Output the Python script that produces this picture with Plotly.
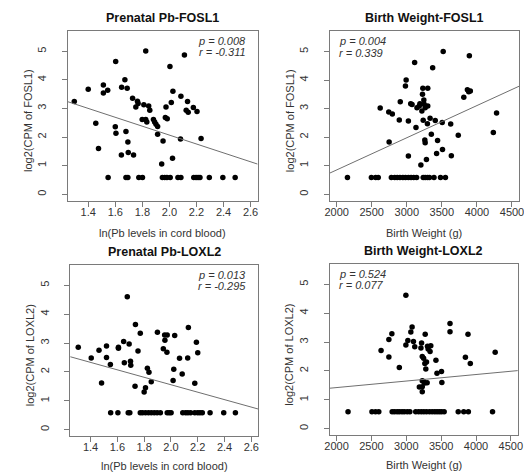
import plotly.graph_objects as go

W, H = 532, 472

# ---------------- data ----------------
# Panel 1: Prenatal Pb vs FOSL1
pb_fosl1_x = [1.297, 1.400, 1.456, 1.476, 1.512, 1.512, 1.544, 1.603, 1.600, 1.605,
              1.645, 1.647, 1.671, 1.688, 1.679, 1.693, 1.696, 1.735, 1.728, 1.752,
              1.764, 1.769, 1.825, 1.811, 1.799, 1.825, 1.833, 1.847, 1.855, 1.882,
              1.891, 1.901, 1.913, 1.913, 1.943, 1.953, 1.970, 1.984, 1.975, 2.004,
              2.014, 2.026, 2.023, 2.085, 2.082, 2.111, 2.124, 2.139, 2.134, 2.177,
              2.204, 2.234,
              1.547, 1.679, 1.693, 1.774, 1.801, 1.948, 1.965, 1.982, 2.006, 2.063,
              2.085, 2.180, 2.197, 2.212, 2.226, 2.295, 2.395, 2.486]
pb_fosl1_y = [3.24, 3.67, 2.48, 1.60, 3.82, 3.54, 3.64, 4.64, 2.36, 2.13,
              1.37, 3.74, 4.00, 3.71, 2.19, 1.83, 1.46, 1.37, 3.36, 3.05,
              3.25, 3.17, 5.01, 3.13, 2.61, 2.61, 2.53, 3.09, 2.94, 2.61,
              2.53, 2.45, 2.37, 2.10, 1.06, 1.86, 2.68, 2.64, 3.05, 4.47,
              3.21, 3.60, 1.26, 3.43, 1.93, 4.87, 2.94, 2.87, 3.24, 3.03,
              2.89, 1.95,
              0.585, 0.585, 0.585, 0.585, 0.585, 0.585, 0.585, 0.585, 0.585, 0.585,
              0.585, 0.585, 0.585, 0.585, 0.585, 0.585, 0.585, 0.585]

# Panel 2: Birth weight vs FOSL1
bw_fosl1_x = [2748, 2621, 2743, 2794, 2893, 2907, 2991, 2981, 3023, 3023,
              3056, 3075, 3112, 3131, 3145, 3178, 3187, 3201, 3215, 3229,
              3224, 3243, 3248, 3262, 3299, 3299, 3234, 3257, 3262, 3280,
              3294, 3332, 3369, 3350, 3406, 3439, 3425, 3505, 3509, 3519,
              3626, 3635, 3734, 3813, 3864, 3883, 3906, 3892, 4234, 4280,
              2154, 2495, 2556, 2593, 2780, 2827, 2864, 2902, 2944, 2981,
              3023, 3061, 3098, 3140, 3234, 3262, 3294, 3323, 3388, 3481, 3551]
bw_fosl1_y = [1.83, 3.02, 2.88, 2.81, 2.60, 3.24, 4.00, 3.79, 1.34, 2.57,
              3.17, 3.14, 4.62, 2.34, 3.03, 3.09, 3.17, 1.02, 2.92, 3.71,
              3.50, 3.30, 3.15, 3.03, 3.71, 3.09, 2.59, 1.90, 1.80, 1.22,
              2.47, 2.66, 4.43, 2.10, 2.58, 1.88, 1.43, 2.51, 1.57, 5.00,
              2.46, 1.35, 2.07, 3.40, 3.66, 3.59, 3.62, 4.85, 2.16, 2.85,
              0.585, 0.585, 0.585, 0.585, 0.585, 0.585, 0.585, 0.585, 0.585, 0.585,
              0.585, 0.585, 0.585, 0.585, 0.585, 0.585, 0.585, 0.585, 0.585, 0.585, 0.585]

# Panel 3: Prenatal Pb vs LOXL2
pb_loxl2_x = [1.308, 1.405, 1.463, 1.482, 1.519, 1.519, 1.548, 1.608, 1.608, 1.647,
              1.652, 1.674, 1.688, 1.698, 1.700, 1.735, 1.732, 1.754, 1.771, 1.824,
              1.836, 1.810, 1.800, 1.853, 1.899, 1.943, 1.955, 1.953, 1.972, 1.970,
              2.028, 2.021, 2.016, 2.064, 2.084, 2.125, 2.130, 2.178, 2.190, 2.200,
              1.550, 1.604, 1.681, 1.693, 1.771, 1.788, 1.810, 1.832, 1.853, 1.875,
              1.897, 1.921, 1.972, 1.987, 2.001, 2.088, 2.110, 2.127, 2.147, 2.178,
              2.200, 2.217, 2.234, 2.292, 2.394, 2.481]
pb_loxl2_y = [2.85, 2.48, 2.75, 1.62, 2.90, 2.50, 2.26, 2.85, 2.82, 3.05,
              2.32, 4.60, 2.97, 2.37, 2.23, 3.64, 1.50, 2.72, 3.34, 2.13,
              1.99, 1.45, 1.30, 1.66, 3.37, 2.80, 3.10, 3.28, 3.28, 2.68,
              3.26, 2.09, 1.70, 2.47, 1.93, 2.48, 3.54, 1.61, 3.03, 2.66,
              0.585, 0.585, 0.585, 0.585, 0.585, 0.585, 0.585, 0.585, 0.585, 0.585,
              0.585, 0.585, 0.585, 0.585, 0.585, 0.585, 0.585, 0.585, 0.585, 0.585,
              0.585, 0.585, 0.585, 0.585, 0.585, 0.585]

# Panel 4: Birth weight vs LOXL2
bw_loxl2_x = [2994, 2638, 2750, 2793, 2750, 2900, 2994, 3022, 3065, 3083,
              3102, 3121, 3219, 3210, 3229, 3248, 3271, 3266, 3290, 3280,
              3304, 3313, 3341, 3351, 3229, 3248, 3266, 3299, 3229, 3187,
              3229, 3425, 3440, 3505, 3510, 3627, 3627, 3848, 3885, 3918, 4275,
              2164, 2507, 2558, 2605, 2797, 2830, 2868, 2900, 2938, 2971,
              3013, 3051, 3135, 3177, 3215, 3252, 3290, 3332, 3370, 3407,
              3440, 3473, 3505, 3543, 3745, 3824, 3890, 4237]
bw_loxl2_y = [4.62, 2.71, 3.09, 3.29, 2.48, 2.12, 2.90, 3.05, 3.35, 3.52,
              3.02, 2.84, 2.97, 2.79, 2.50, 2.44, 3.27, 2.26, 2.31, 2.07,
              2.85, 2.76, 2.67, 2.87, 1.66, 1.63, 1.58, 1.59, 1.45, 1.44,
              1.28, 2.37, 1.92, 1.98, 1.60, 3.64, 3.36, 2.47, 3.27, 2.26, 2.65,
              0.585, 0.585, 0.585, 0.585, 0.585, 0.585, 0.585, 0.585, 0.585, 0.585,
              0.585, 0.585, 0.585, 0.585, 0.585, 0.585, 0.585, 0.585, 0.585, 0.585,
              0.585, 0.585, 0.585, 0.585, 0.585, 0.585, 0.585, 0.585]

# fitted regression lines (intercept, slope)
fit_pb_fosl1 = (5.18, -1.556)
fit_bw_fosl1 = (-1.405, 0.001128)
fit_pb_loxl2 = (4.137, -1.291)
fit_bw_loxl2 = (0.971, 0.000226)

titles = ["Prenatal Pb-FOSL1", "Birth Weight-FOSL1", "Prenatal Pb-LOXL2", "Birth Weight-LOXL2"]
stats = [("p = 0.008", "r = -0.311"), ("p = 0.004", "r = 0.339"),
         ("p = 0.013", "r = -0.295"), ("p = 0.524", "r = 0.077")]
xlabels = ["ln(Pb levels in cord blood)", "Birth Weight (g)",
           "ln(Pb levels in cord blood)", "Birth Weight (g)"]
ylabels = ["log2(CPM of FOSL1)", "log2(CPM of FOSL1)",
           "log2(CPM of LOXL2)", "log2(CPM of LOXL2)"]
pb_ticks = [1.4, 1.6, 1.8, 2.0, 2.2, 2.4, 2.6]
pb_ticktext = ["1.4", "1.6", "1.8", "2.0", "2.2", "2.4", "2.6"]
bw_ticks = [2000, 2500, 3000, 3500, 4000, 4500]
y_ticks = [0, 1, 2, 3, 4, 5]

# ---------------- layout geometry (pixels) ----------------
boxes = [  # left, right, top, bottom
    (55.7, 249.3, 22.7, 192.5),
    (322.7, 515.7, 23.0, 192.5),
    (58.3, 250.0, 256.5, 428.0),
    (322.7, 514.5, 255.5, 427.0),
]
xtitle_off = [32.5, 32.5, 29.5, 29.5]
xranges = [(1.248, 2.652), (1900, 4600), (1.248, 2.652), (1900, 4600)]
yrange = (-0.22, 5.72)

panels = [
    (pb_fosl1_x, pb_fosl1_y, fit_pb_fosl1, pb_ticks, pb_ticktext, "right"),
    (bw_fosl1_x, bw_fosl1_y, fit_bw_fosl1, bw_ticks, [str(v) for v in bw_ticks], "left"),
    (pb_loxl2_x, pb_loxl2_y, fit_pb_loxl2, pb_ticks, pb_ticktext, "right"),
    (bw_loxl2_x, bw_loxl2_y, fit_bw_loxl2, bw_ticks, [str(v) for v in bw_ticks], "left"),
]

FONT = "Liberation Sans, Arial, sans-serif"
AXC = "#7a7a7a"
TXT = "#333333"

fig = go.Figure()
layout = dict(
    width=W, height=H,
    margin=dict(l=0, r=0, t=0, b=0),
    paper_bgcolor="white", plot_bgcolor="white",
    showlegend=False,
    font=dict(family=FONT, color=TXT, size=11),
)
annotations = []

def px(x):
    return x / W

def py(y):
    return 1 - y / H

for i, (xs, ys, fit, xt, xtt, side) in enumerate(panels):
    n = "" if i == 0 else str(i + 1)
    L, R, T, B = boxes[i]
    xr = xranges[i]
    layout["xaxis" + n] = dict(
        domain=[px(L), px(R)], range=list(xr), anchor="y" + n,
        showline=True, mirror=True, linecolor=AXC, linewidth=1,
        ticks="outside", ticklen=5, tickcolor=AXC, tickwidth=1,
        tickvals=xt, ticktext=xtt, showgrid=False, zeroline=False,
        tickfont=dict(size=11, color=TXT, family=FONT), ticklabelstandoff=-4,
    )
    layout["yaxis" + n] = dict(
        domain=[py(B), py(T)], range=list(yrange), anchor="x" + n,
        showline=True, mirror=True, linecolor=AXC, linewidth=1,
        ticks="outside", ticklen=5, tickcolor=AXC, tickwidth=1,
        tickvals=y_ticks, showgrid=False, zeroline=False, tickangle=-90,
        tickfont=dict(size=11, color=TXT, family=FONT), ticklabelstandoff=11,
    )
    xa = "x" + n
    ya = "y" + n
    fig.add_trace(go.Scatter(
        x=xs, y=ys, mode="markers", xaxis=xa, yaxis=ya,
        marker=dict(color="black", size=5.5, line=dict(width=0)),
        hoverinfo="skip"))
    b0, b1 = fit
    lx = [xr[0], xr[1]]
    fig.add_trace(go.Scatter(
        x=lx, y=[b0 + b1 * v for v in lx], mode="lines", xaxis=xa, yaxis=ya,
        line=dict(color="#6f6f6f", width=1), hoverinfo="skip", cliponaxis=True))

    cx = (L + R) / 2
    # title
    annotations.append(dict(text="<b>%s</b>" % titles[i], x=px(cx), y=py(T - 12.5),
                            xref="paper", yref="paper", showarrow=False,
                            xanchor="center", yanchor="middle",
                            font=dict(size=12.5, color="#111111", family=FONT)))
    # x-axis title
    annotations.append(dict(text=xlabels[i], x=px(cx), y=py(B + xtitle_off[i]),
                            xref="paper", yref="paper", showarrow=False,
                            xanchor="center", yanchor="middle",
                            font=dict(size=11, color=TXT, family=FONT)))
    # y-axis title
    annotations.append(dict(text=ylabels[i], x=px(L - 41), y=py((T + B) / 2 + 5),
                            xref="paper", yref="paper", showarrow=False,
                            xanchor="center", yanchor="middle", textangle=-90,
                            font=dict(size=11, color=TXT, family=FONT)))
    # stats
    if side == "right":
        sx, anch = R - 10, "right"
    else:
        sx, anch = L + 7, "left"
    for k, s in enumerate(stats[i]):
        annotations.append(dict(text="<i>%s</i>" % s, x=px(sx), y=py(T + 10.5 + 11 * k),
                                xref="paper", yref="paper", showarrow=False,
                                xanchor=anch, yanchor="middle",
                                font=dict(size=11, color=TXT, family=FONT)))

layout["annotations"] = annotations
fig.update_layout(**layout)
fig.write_html("out.html")
